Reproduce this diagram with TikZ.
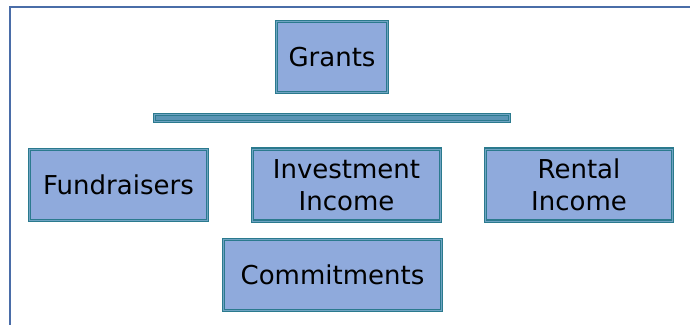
\documentclass[tikz,border=0pt]{standalone}
\usepackage{fontspec}
\setmainfont{DejaVu Sans}
\definecolor{boxfill}{HTML}{8FAADC}
\definecolor{boxedge}{HTML}{2B7A8E}
\definecolor{boxinner}{HTML}{6FA3C2}
\definecolor{barfill}{HTML}{5A94B4}
\definecolor{framecol}{HTML}{4A6DA8}
\begin{document}
\begin{tikzpicture}[x=1pt, y=-1pt,
		box/.style={draw=boxedge, line width=1.2pt, double=boxinner, double distance=0.7pt,
			fill=boxfill, inner sep=0pt, align=center, font=\fontsize{26}{32}\selectfont},
		barbox/.style={box, fill=barfill, double distance=0.5pt, line width=1pt}]
		\useasboundingbox (0,0) rectangle (690,324);
		\draw[framecol, line width=1.3pt] (10,330) -- (10,7) -- (700,7);
		
		\node[box, minimum width=111, minimum height=71] (grants) at (332,57) {Grants};
		\node[barbox, minimum width=355, minimum height=7] (bar) at (332,118) {};
		
		\node[box, minimum width=178, minimum height=71] (fund) at (118.5,185) {Fundraisers};
		\node[box, minimum width=188, minimum height=72] (invest) at (346.5,185) {Investment\\Income};
		\node[box, minimum width=187, minimum height=72] (rental) at (579,185) {Rental\\Income};
		\node[box, minimum width=218, minimum height=71] (commit) at (332.5,275) {Commitments};
	\end{tikzpicture}
\end{document}
